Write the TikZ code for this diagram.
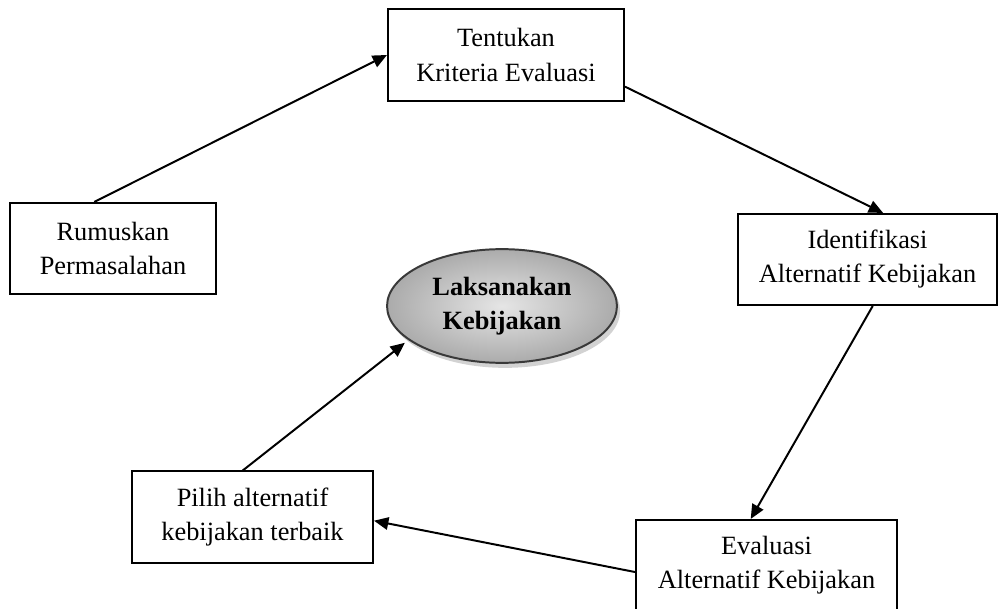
\documentclass[tikz,border=0pt]{standalone}
\usepackage{fontspec}
\setmainfont{Liberation Serif}
\usetikzlibrary{shapes.geometric, arrows.meta, positioning, calc, shadows}

\begin{document}
\begin{tikzpicture}[
    x=0.016cm, y=-0.016cm,
    box/.style={
        rectangle, draw=black, line width=0.85pt,
        minimum height=1.46cm, inner sep=2pt,
        fill=white, font=\fontsize{12}{15.5}\selectfont, align=center
    },
    hub/.style={
        ellipse, draw=gray!45!black, line width=0.9pt,
        minimum width=3.68cm, minimum height=1.82cm, inner sep=1pt,
        shading=radial, inner color=gray!20, outer color=gray!66,
        drop shadow={shadow xshift=0.05cm, shadow yshift=-0.08cm, fill=gray!35, opacity=1},
        font=\fontsize{12}{15.5}\selectfont\bfseries, align=center
    },
    arrow/.style={-{Triangle[length=2.3mm, width=2mm]}, line width=0.9pt, draw=black}
]
\useasboundingbox (0,0) rectangle (999,609);

% Boxes
\node[box, minimum width=3.3cm] (rumus) at (113,248.5) {Rumuskan\\Permasalahan};
\node[box, minimum width=3.78cm] (kriteria) at (506,55) {Tentukan\\Kriteria Evaluasi};
\node[box, minimum width=4.14cm] (identif) at (867.5,259.5) {Identifikasi\\Alternatif Kebijakan};
\node[box, minimum width=4.18cm] (evalu) at (766.5,565.5) {Evaluasi\\Alternatif Kebijakan};
\node[box, minimum width=3.86cm] (pilih) at (252.5,517) {Pilih alternatif\\kebijakan terbaik};

% Center
\node[hub] (laksana) at (502,306) {Laksanakan\\Kebijakan};

% Arrows
\draw[arrow] ($(rumus.north west)!0.41!(rumus.north east)$) -- (kriteria.west);
\draw[arrow] ($(kriteria.north east)!0.84!(kriteria.south east)$) -- ($(identif.north west)!0.56!(identif.north east)$);
\draw[arrow] ($(identif.south west)!0.52!(identif.south east)$) -- ($(evalu.north west)!0.44!(evalu.north east)$);
\draw[arrow] ($(evalu.north west)!0.57!(evalu.south west)$) -- ($(pilih.north east)!0.54!(pilih.south east)$);
\draw[arrow, shorten >=2pt] ($(pilih.north west)!0.46!(pilih.north east)$) -- (laksana.200);

\end{tikzpicture}
\end{document}
